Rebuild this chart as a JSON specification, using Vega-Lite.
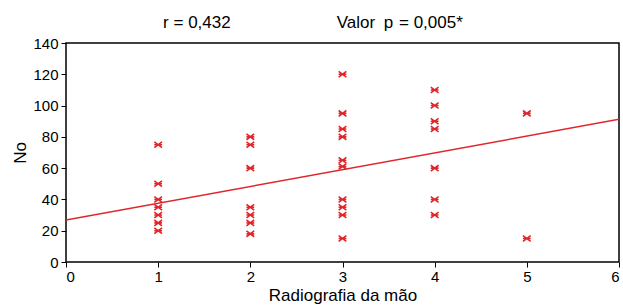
{
  "$schema": "https://vega.github.io/schema/vega-lite/v6.json",
  "width": 553,
  "height": 219,
  "autosize": {"type": "none"},
  "padding": {"left": 66, "top": 43, "right": 4, "bottom": 44},
  "background": "white",
  "config": {
    "font": "Liberation Sans",
    "view": {"stroke": "black", "strokeWidth": 1.5},
    "axis": {"grid": false, "domain": false, "labelFont": "Liberation Sans", "titleFont": "Liberation Sans", "labelColor": "black", "titleColor": "black", "tickColor": "black", "labelFontSize": 15, "titleFontSize": 17, "titleFontWeight": "normal"}
  },
  "datasets": {
    "pts": [
      {"x": 1, "y": 75}, {"x": 1, "y": 50}, {"x": 1, "y": 40}, {"x": 1, "y": 35}, {"x": 1, "y": 30}, {"x": 1, "y": 25}, {"x": 1, "y": 20},
      {"x": 2, "y": 80}, {"x": 2, "y": 75}, {"x": 2, "y": 60}, {"x": 2, "y": 35}, {"x": 2, "y": 30}, {"x": 2, "y": 25}, {"x": 2, "y": 18},
      {"x": 3, "y": 120}, {"x": 3, "y": 95}, {"x": 3, "y": 85}, {"x": 3, "y": 80}, {"x": 3, "y": 65}, {"x": 3, "y": 61}, {"x": 3, "y": 40}, {"x": 3, "y": 35}, {"x": 3, "y": 30}, {"x": 3, "y": 15},
      {"x": 4, "y": 110}, {"x": 4, "y": 100}, {"x": 4, "y": 90}, {"x": 4, "y": 85}, {"x": 4, "y": 60}, {"x": 4, "y": 40}, {"x": 4, "y": 30},
      {"x": 5, "y": 95}, {"x": 5, "y": 15}
    ],
    "fit": [{"x": 0, "y": 26.8}, {"x": 6, "y": 91.2}],
    "notes": [
      {"x": 1.42, "y": 152.5, "t": "r = 0,432", "style": "normal"},
      {"x": 3.145, "y": 152.8, "t": "Valor", "style": "normal"},
      {"x": 3.498, "y": 152.8, "t": "p", "style": "italic"},
      {"x": 3.959, "y": 152.8, "t": "= 0,005*", "style": "normal"}
    ]
  },
  "encoding": {
    "x": {"field": "x", "type": "quantitative", "scale": {"domain": [0, 6], "nice": false}, "axis": {"values": [0, 1, 2, 3, 4, 5, 6], "title": "Radiografia da mão", "tickSize": 5, "labelPadding": 2, "titlePadding": 3}},
    "y": {"field": "y", "type": "quantitative", "scale": {"domain": [0, 140], "nice": false}, "axis": {"values": [0, 20, 40, 60, 80, 100, 120, 140], "title": "No", "tickSize": 5, "labelPadding": 3, "titlePadding": 3}}
  },
  "layer": [
    {
      "data": {"name": "fit"},
      "mark": {"type": "line", "color": "#e0262b", "strokeWidth": 1.5, "clip": true},
      "encoding": {}
    },
    {
      "data": {"name": "pts"},
      "mark": {"type": "point", "shape": "M-1,-0.75L1,0.75M-1,0.75L1,-0.75M-1,0L1,0", "filled": false, "stroke": "#e0262b", "strokeWidth": 1.6, "size": 60, "opacity": 1},
      "encoding": {}
    },
    {
      "data": {"name": "notes"},
      "mark": {"type": "text", "fontSize": 17, "color": "black", "baseline": "middle", "align": "center", "clip": false},
      "encoding": {
        "text": {"field": "t"},
        "fontStyle": {"field": "style", "type": "nominal", "scale": null}
      }
    }
  ]
}
